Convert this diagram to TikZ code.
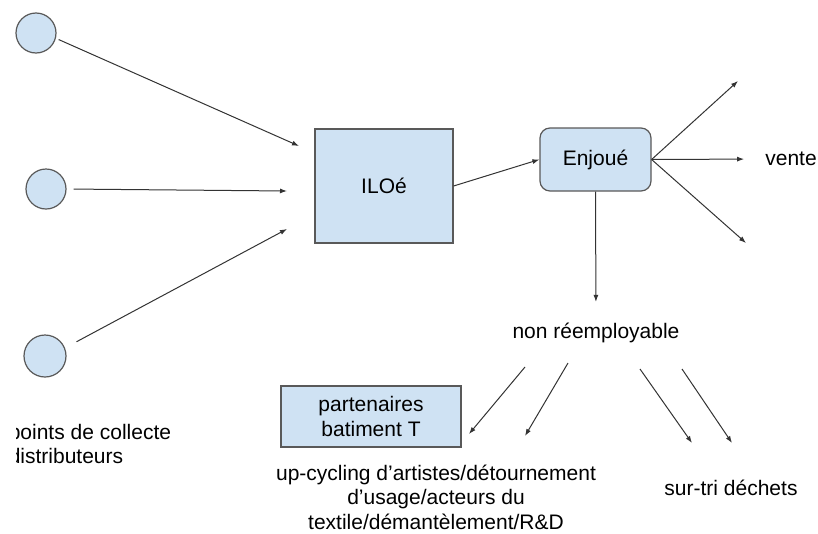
\documentclass[tikz,border=0pt]{standalone}
\usepackage{fontspec}
\setmainfont{Liberation Sans}
\usetikzlibrary{arrows.meta}

\definecolor{boxblue}{HTML}{CFE2F3}
\definecolor{edgegray}{HTML}{595959}
\definecolor{arrowgray}{HTML}{333333}

\tikzset{
  collect/.style={circle, draw=edgegray, fill=boxblue, line width=1.2pt, minimum size=40pt, inner sep=0pt},
  stage/.style={rectangle, draw=edgegray, fill=boxblue, line width=1.2pt, inner sep=0pt, align=center},
  flow/.style={draw=arrowgray, line width=1pt, -{Latex[length=7pt,width=5pt]}},
  txt/.style={inner sep=0pt, align=center}
}

\begin{document}
\begin{tikzpicture}[x=1pt, y=-1pt, every node/.style={font=\fontsize{21}{24.5}\selectfont}]
\useasboundingbox (0,0) rectangle (818,533);

\node[collect] (c1) at (36,33) {};
\node[collect] (c2) at (46,189) {};
\node[collect, minimum size=42pt] (c3) at (45,356) {};

\node[stage, minimum width=138pt, minimum height=114pt] (ilo) at (384,186) {ILOé};
\node[stage, rounded corners=10pt, minimum width=111pt, minimum height=63pt] (enj) at (595.5,159.5) {Enjoué};
\node[stage, minimum width=180pt, minimum height=61pt] (part) at (371,416.5) {partenaires\\batiment T};

\node[txt] (vente) at (791,159) {vente};
\node[txt] (nr) at (596,333) {non réemployable};
\node[txt] (up) at (436,497) {up-cycling d’artistes/détournement\\d’usage/acteurs du\\textile/démantèlement/R\&D};
\node[txt] (tri) at (731,488) {sur-tri déchets};

\begin{scope}
\clip (16,400) rectangle (300,480);
\node[txt, align=left, anchor=west] (pts) at (8.6,444) {points de collecte\\distributeurs};
\end{scope}

\coordinate (in1) at (299,146);
\coordinate (in2) at (287,191);
\coordinate (in3) at (287,229);
\coordinate (out1) at (738,81);
\coordinate (out3) at (746,243);
\coordinate (s1) at (525,367);
\coordinate (t1) at (469,434);
\coordinate (s2) at (568,363);
\coordinate (t2) at (525,436);
\coordinate (s3) at (640,369);
\coordinate (t3) at (692,443);
\coordinate (s4) at (682,369);
\coordinate (t4) at (732,443);

\draw[flow, shorten <=3pt] (c1.-15) -- (in1);
\draw[flow, shorten <=7pt] (c2.east) -- (in2);
\draw[flow, shorten <=13pt] (c3.22) -- (in3);

\draw[flow] (ilo.east) -- (enj.west);

\draw[flow] (enj.east) -- (out1);
\draw[flow, shorten >=21pt] (enj.east) -- (vente.west);
\draw[flow] (enj.east) -- (out3);
\draw[flow, shorten >=21pt] (enj.south) -- (nr.north);

\draw[flow] (s1) -- (t1);
\draw[flow] (s2) -- (t2);
\draw[flow] (s3) -- (t3);
\draw[flow] (s4) -- (t4);
\end{tikzpicture}
\end{document}
